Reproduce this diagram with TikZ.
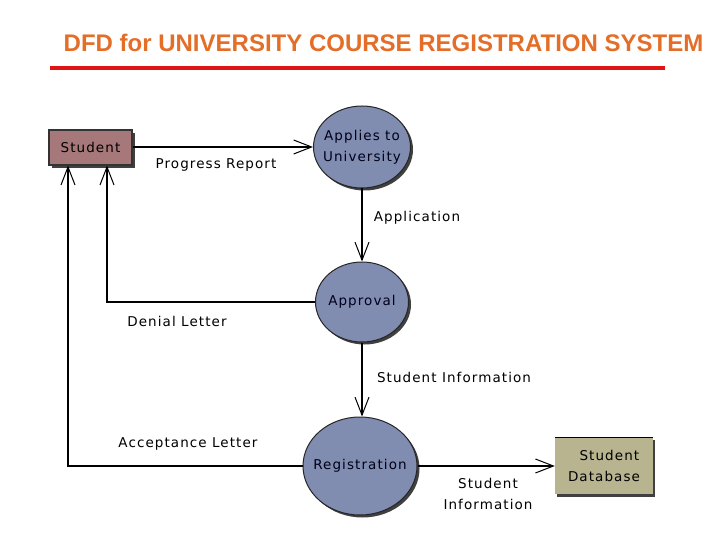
\documentclass[tikz,border=0pt]{standalone}
\usepackage{fontspec}
\setmainfont{Liberation Sans}
\newfontfamily\lbl[LetterSpace=8]{DejaVu Sans}
\usetikzlibrary{arrows.meta,calc,shapes.geometric}
\definecolor{titleor}{RGB}{228,110,40}
\definecolor{redline}{RGB}{225,20,20}
\definecolor{stufill}{RGB}{166,120,122}
\definecolor{procfill}{RGB}{128,140,176}
\definecolor{dbfill}{RGB}{184,180,144}
\tikzset{
  lbltext/.style={font=\lbl\fontsize{13.5}{21}\selectfont, text=black, align=center},
  entity/.style={rectangle, draw=black!80, line width=1.2pt, fill=stufill, minimum width=83pt, minimum height=35pt, lbltext},
  proc/.style={ellipse, draw=black!85, line width=1pt, fill=procfill, inner sep=0pt},
  proctext/.style={lbltext, text=black!90!blue},
  store/.style={rectangle, fill=dbfill, minimum width=98pt, minimum height=56pt, lbltext, inner sep=0pt},
  shad/.style={fill=black!75},
  flow/.style={draw=black, line width=1.4pt, -{Straight Barb[length=18pt,width=14pt,line width=1pt]}},
  flowlbl/.style={lbltext}
}
\begin{document}
\begin{tikzpicture}[x=1pt,y=-1pt]
\useasboundingbox (0,0) rectangle (720,540);
\fill[white] (0,0) rectangle (720,540);
% title
\node[font=\bfseries\fontsize{24}{28}\selectfont, text=titleor, inner sep=0pt] (title) at (383.5,43) {DFD for UNIVERSITY COURSE REGISTRATION SYSTEM};
\fill[redline] (50,66) rectangle (665,70.5);
% shadows
\fill[shad] (52,133) rectangle (135,168);
\fill[shad] (364.5,149.5) ellipse [x radius=48.5, y radius=41];
\fill[shad] (364.5,304.5) ellipse [x radius=46.5, y radius=40];
\fill[shad] (362.5,468.5) ellipse [x radius=57, y radius=49];
\fill[shad] (557,440) rectangle (655,497);
% nodes
\node[entity] (stu) at (90.5,147.5) {Student};
\node[proc, minimum width=97pt, minimum height=82pt] (app) at (362,147) {};
\node[proctext] (appt) at (app.center) {Applies to\\University};
\node[proc, minimum width=93pt, minimum height=80pt] (apr) at (362,302) {};
\node[proctext] (aprt) at (apr.center) {Approval};
\node[proc, minimum width=114pt, minimum height=98pt] (reg) at (360,466) {};
\node[proctext] (regt) at (reg.center) {Registration};
\node[store] (db) at (604,466) {\ \ Student\\Database};
\draw[black, line width=1.2pt] (db.north west) -- (db.north east);
% connectors
\draw[flow] (stu.east |- app) -- (app.west);
\node[flowlbl] (l1) at (216,165) {Progress Report};
\draw[flow] (app.south) -- (apr.north);
\node[flowlbl] (l2) at (417,218) {Application};
\draw[flow] (apr.west) -| ($(stu.south)+(16.5,0)$);
\node[flowlbl] (l3) at (177,321) {Denial Letter};
\draw[flow] (apr.south) -- (apr.south |- reg.north);
\node[flowlbl] (l4) at (454,377) {Student Information};
\draw[flow] (reg.west) -| ($(stu.south)+(-22.5,0)$);
\node[flowlbl] (l5) at (188,444) {Acceptance Letter};
\draw[flow] (reg.east) -- (db.west);
\node[flowlbl] (l6) at (488,494) {Student\\Information};
\end{tikzpicture}
\end{document}
